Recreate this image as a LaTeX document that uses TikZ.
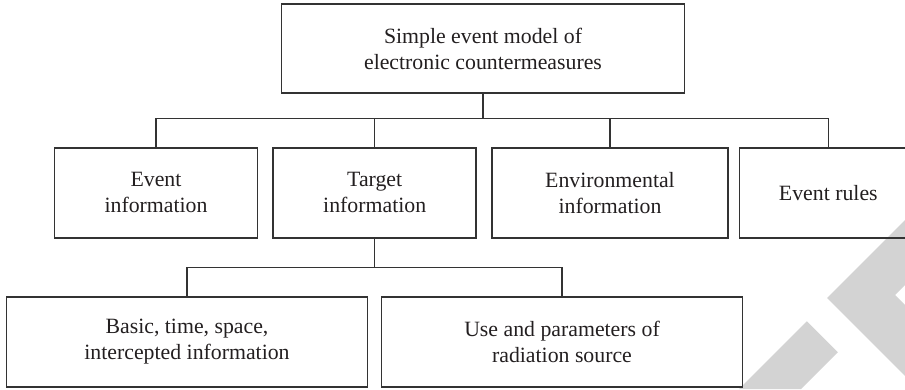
\documentclass[tikz,border=0pt]{standalone}
\usepackage{fontspec}
\setmainfont{Liberation Serif}
\definecolor{linec}{RGB}{51,51,51}
\definecolor{txtc}{RGB}{35,31,32}
\definecolor{wmark}{RGB}{211,211,211}
\begin{document}
\begin{tikzpicture}[x=1pt,y=-1pt,
  box/.style={draw=linec, line width=1.5pt, align=center, inner sep=0pt,
    minimum height=90.3pt, text=txtc, font=\fontsize{21.8}{26}\selectfont},
  link/.style={draw=linec, line width=1.5pt}]
\useasboundingbox (0,0) rectangle (905,389);
\clip (0,0) rectangle (905,389);

% light grey mark in the lower right corner
\fill[wmark] (905,220) -- (827,298) -- (905,376) -- (905,305) -- (895,295) -- (905,285) -- cycle;
\fill[wmark] (739,389) -- (806.75,321.25) -- (837.75,352.25) -- (801,389) -- cycle;

% boxes
\node[box, minimum width=403pt, minimum height=89pt] (root) at (483,48.5)
  {Simple event model of\\electronic countermeasures};
\node[box, minimum width=203pt] (event)  at (156,192.9)   {Event\\information};
\node[box, minimum width=203pt] (target) at (374.7,192.9) {Target\\information};
\node[box, minimum width=236pt] (env)    at (610,192.9)   {Environmental\\information};
\node[box, minimum width=178pt] (rules)  at (828.3,192.9) {Event rules};
\node[box, minimum width=361pt] (basic)  at (187,341.9)   {Basic, time, space,\\intercepted information};
\node[box, minimum width=361pt] (use)    at (562,341.9)   {Use and parameters of\\radiation source};

% first level of the tree
\draw[link] (root.south) -- ++(0,24.7) coordinate (j1);
\draw[link] (event.north) -- (event.north |- j1) -- (rules.north |- j1) -- (rules.north);
\draw[link] (target.north) -- (target.north |- j1);
\draw[link] (env.north) -- (env.north |- j1);

% second level under the target information
\draw[link] (target.south) -- ++(0,28.8) coordinate (j2);
\draw[link] (basic.north) -- (basic.north |- j2) -- (use.north |- j2) -- (use.north);
\end{tikzpicture}
\end{document}
